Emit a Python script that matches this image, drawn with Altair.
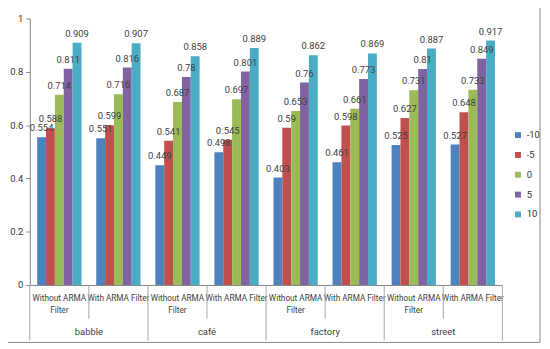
import altair as alt
import pandas as pd

noise = ["babble", "café", "factory", "street"]
filters = ["Without ARMA Filter", "With ARMA Filter"]
filter_labels = ["Without ARMA|Filter", "With ARMA Filter"]
series = ["-10", "-5", "0", "5", "10"]
colors = ["#4F81BD", "#C0504D", "#9BBB59", "#8064A2", "#4BACC6"]

# values per series, group order: babble wo/w, café wo/w, factory wo/w, street wo/w
v_m10 = [0.554, 0.551, 0.449, 0.498, 0.403, 0.461, 0.525, 0.527]
v_m5 = [0.588, 0.599, 0.541, 0.545, 0.59, 0.598, 0.627, 0.648]
v_0 = [0.714, 0.716, 0.687, 0.697, 0.653, 0.661, 0.731, 0.733]
v_5 = [0.811, 0.816, 0.78, 0.801, 0.76, 0.773, 0.81, 0.849]
v_10 = [0.909, 0.907, 0.858, 0.889, 0.862, 0.869, 0.887, 0.917]
y_ticks = [0, 0.2, 0.4, 0.6, 0.8, 1]

FONT = "Roboto"
W, H = 477, 269

groups = []
group_label = []
for n in noise:
    for f, fl in zip(filters, filter_labels):
        groups.append(f"{n} / {f}")
        group_label.append(fl)

rows = []
for s, vals in zip(series, [v_m10, v_m5, v_0, v_5, v_10]):
    for g, v in zip(groups, vals):
        rows.append({"group": g, "series": s, "value": v, "label": f"{v:g}"})
df = pd.DataFrame(rows)

bar_scale = alt.Scale(paddingInner=0.25, paddingOuter=0.125)
xo_enc = alt.XOffset("series:N", sort=series, scale=alt.Scale(paddingInner=0))

bars = alt.Chart(df).mark_bar().encode(
    x=alt.X("group:N", sort=groups, scale=bar_scale,
            axis=alt.Axis(labels=False, ticks=False, domain=True, title=None,
                          domainColor="#868686", grid=False)),
    xOffset=xo_enc,
    y=alt.Y("value:Q", scale=alt.Scale(domain=[0, 1], nice=False),
            axis=alt.Axis(values=y_ticks, format="~g", title=None, grid=False,
                          domainColor="#868686", tickColor="#868686", tickSize=4,
                          labelFont=FONT, labelFontSize=9.5, labelColor="#333333",
                          labelPadding=3)),
    color=alt.Color("series:N", sort=series,
                    scale=alt.Scale(domain=series, range=colors),
                    legend=alt.Legend(title=None, orient="none", legendX=488, legendY=113,
                                      symbolType="square", symbolSize=36,
                                      labelFont=FONT, labelFontSize=9.5,
                                      labelColor="#333333", rowPadding=9,
                                      symbolStrokeWidth=0)),
)

texts = alt.Chart(df).mark_text(baseline="alphabetic", dy=-6, font=FONT,
                                fontSize=9.5, color="#404040").encode(
    x=alt.X("group:N", sort=groups, scale=bar_scale, axis=None),
    xOffset=xo_enc,
    y="value:Q",
    text="label:N",
)

sub_df = pd.DataFrame({"group": groups, "text": group_label})
sub_labels = alt.Chart(sub_df).mark_text(
    baseline="top", lineBreak="|", lineHeight=12, font=FONT, fontSize=8.3,
    color="#404040").encode(
    x=alt.X("group:N", sort=groups, scale=alt.Scale(paddingInner=0, paddingOuter=0),
            axis=None, bandPosition=0.5),
    y=alt.value(H + 9),
    text="text:N",
)

main_df = pd.DataFrame({"noise": noise})
main_labels = alt.Chart(main_df).mark_text(
    baseline="middle", font=FONT, fontSize=9.5, color="#404040").encode(
    x=alt.X("noise:N", sort=noise, scale=alt.Scale(paddingInner=0, paddingOuter=0),
            axis=None, bandPosition=0.5),
    y=alt.value(H + 47),
    text="noise:N",
)

n_groups = len(groups)
sub_df2 = pd.DataFrame({"pos": [i for i in range(n_groups + 1) if i % 2 == 1]})
main_df2 = pd.DataFrame({"pos": [i for i in range(n_groups + 1) if i % 2 == 0]})
sep_scale = alt.Scale(domain=[0, n_groups], nice=False)
sub_seps = alt.Chart(sub_df2).mark_rule(color="#A6A6A6", strokeWidth=1).encode(
    x=alt.X("pos:Q", scale=sep_scale, axis=None),
    y=alt.value(H), y2=alt.value(H + 34),
)
main_seps = alt.Chart(main_df2).mark_rule(color="#A6A6A6", strokeWidth=1).encode(
    x=alt.X("pos:Q", scale=sep_scale, axis=None),
    y=alt.value(H), y2=alt.value(H + 56),
)

frame = alt.Chart(pd.DataFrame({"a": [0]})).mark_rect(
    fill=None, stroke="#868686", strokeWidth=1, clip=False).encode(
    x=alt.value(-25), x2=alt.value(W + 38),
    y=alt.value(-12), y2=alt.value(H + 58),
)

chart = alt.layer(frame, bars, texts, sub_labels, main_labels, sub_seps, main_seps).resolve_scale(
    x="independent"
).properties(
    width=W, height=H,
    autosize=alt.AutoSizeParams(type="none"),
    padding={"left": 22, "top": 9, "right": 40, "bottom": 60},
).configure_view(stroke=None)

chart.save("out.html", embed_options={"renderer": "svg", "actions": False})
